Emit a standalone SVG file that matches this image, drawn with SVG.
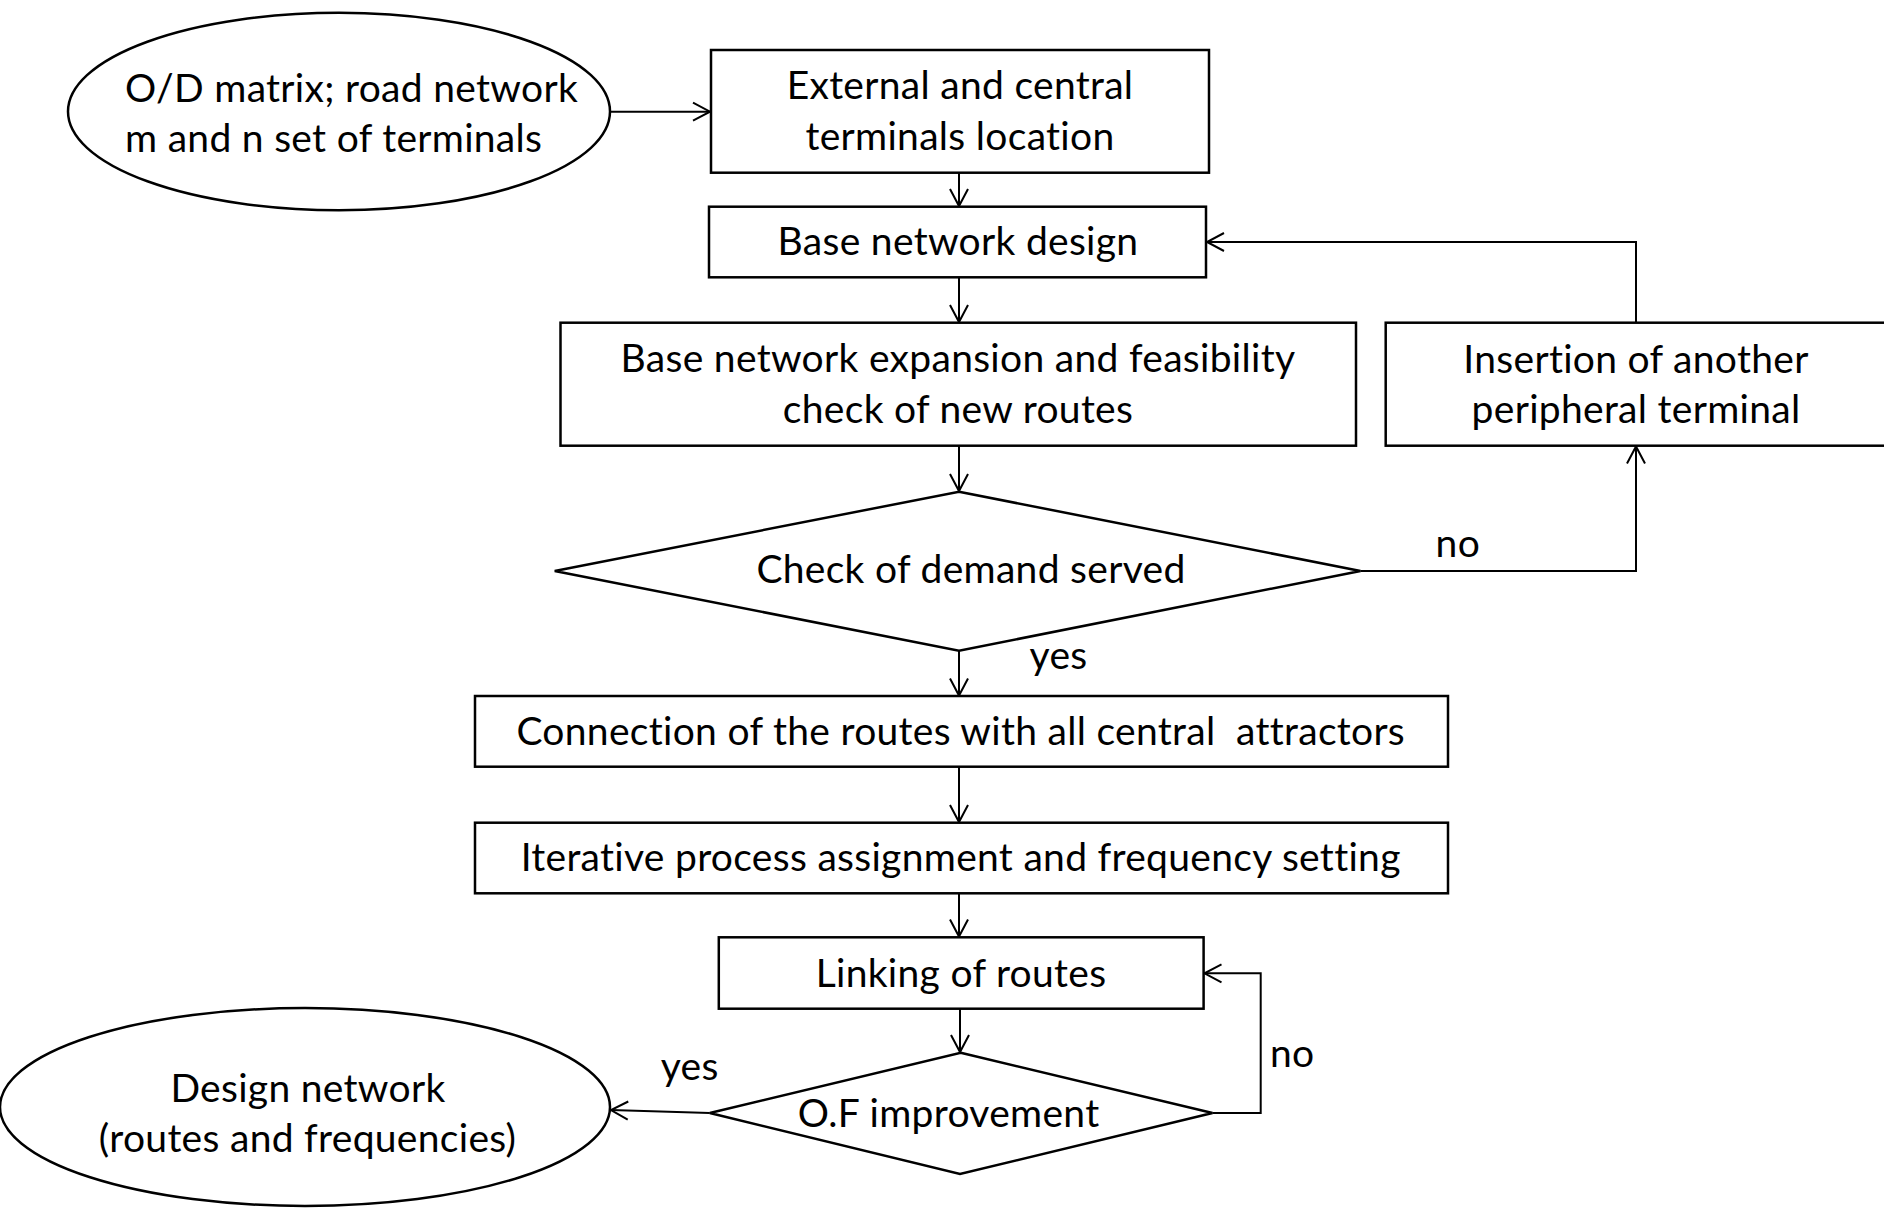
<svg xmlns="http://www.w3.org/2000/svg" width="1884" height="1208" viewBox="0 0 1884 1208">
  <style>
    .shape { fill: #ffffff; stroke: #000000; stroke-width: 2.5; }
    .conn { fill: none; stroke: #000000; stroke-width: 2; }
    text { font-family: Lato, "Open Sans", "Liberation Sans", sans-serif; font-size: 39px; letter-spacing: 0.3px; fill: #000000; white-space: pre; }
    .c { text-anchor: middle; }
  </style>
  <defs>
    <marker id="arrow" markerUnits="userSpaceOnUse" markerWidth="24" markerHeight="24" viewBox="-20 -12 24 24" refX="0" refY="0" orient="auto">
      <path d="M-17,-9 L0,0 L-17,9" fill="none" stroke="#000000" stroke-width="2"/>
    </marker>
  </defs>
  <rect width="1884" height="1208" fill="#ffffff"/>

  <!-- connectors -->
  <g id="connectors">
    <path class="conn" d="M609,111.7 L710,111.7" marker-end="url(#arrow)"/>
    <path class="conn" d="M959,172.7 L959,206" marker-end="url(#arrow)"/>
    <path class="conn" d="M959,277.3 L959,322" marker-end="url(#arrow)"/>
    <path class="conn" d="M959,445.7 L959,491" marker-end="url(#arrow)"/>
    <path class="conn" d="M1360.5,571 L1636,571 L1636,446.5" marker-end="url(#arrow)"/>
    <path class="conn" d="M1636,322.7 L1636,242 L1207,242" marker-end="url(#arrow)"/>
    <path class="conn" d="M959,650.7 L959,695.5" marker-end="url(#arrow)"/>
    <path class="conn" d="M959,766.7 L959,822" marker-end="url(#arrow)"/>
    <path class="conn" d="M959,893.3 L959,936.5" marker-end="url(#arrow)"/>
    <path class="conn" d="M960,1008.7 L960,1052" marker-end="url(#arrow)"/>
    <path class="conn" d="M1212.5,1113 L1260.7,1113 L1260.7,973.3 L1204.5,973.3" marker-end="url(#arrow)"/>
    <path class="conn" d="M709.8,1113 L611,1110" marker-end="url(#arrow)"/>
    <text x="1435.6" y="556.7">no</text>
    <text x="1029.6" y="669">yes</text>
    <text x="1270" y="1066.7">no</text>
    <text x="660.7" y="1080">yes</text>
  </g>

  <!-- inputs -->
  <g id="input">
    <ellipse class="shape" cx="339" cy="111.5" rx="271" ry="98.7"/>
    <text x="125" y="102">O/D matrix; road network</text>
    <text x="125" y="152">m and n set of terminals</text>
  </g>

  <g id="terminals-location">
    <rect class="shape" x="711" y="50" width="498" height="122.7"/>
    <text class="c" x="960" y="99.3">External and central</text>
    <text class="c" x="960" y="150">terminals location</text>
  </g>

  <g id="base-network-design">
    <rect class="shape" x="709" y="206.7" width="497" height="70.6"/>
    <text class="c" x="958" y="255">Base network design</text>
  </g>

  <g id="base-network-expansion">
    <rect class="shape" x="560.5" y="322.7" width="795.5" height="123"/>
    <text class="c" x="958" y="372.3">Base network expansion and feasibility</text>
    <text class="c" x="958" y="422.7">check of new routes</text>
  </g>

  <g id="insertion">
    <rect class="shape" x="1385.7" y="322.7" width="502" height="123"/>
    <text class="c" x="1636" y="373">Insertion of another</text>
    <text class="c" x="1636" y="423">peripheral terminal</text>
  </g>

  <g id="demand-check">
    <polygon class="shape" points="959,491.7 1360.5,571 959,650.7 554.7,571"/>
    <text class="c" x="971" y="583.3">Check of demand served</text>
  </g>

  <g id="connection">
    <rect class="shape" x="475" y="696" width="973" height="70.7"/>
    <text class="c" x="960.7" y="745" xml:space="preserve">Connection of the routes with all central  attractors</text>
  </g>

  <g id="iterative">
    <rect class="shape" x="475" y="822.7" width="973" height="70.6"/>
    <text class="c" x="960.7" y="871">Iterative process assignment and frequency setting</text>
  </g>

  <g id="linking">
    <rect class="shape" x="718.8" y="937.3" width="484.8" height="71.4"/>
    <text class="c" x="961" y="986.7">Linking of routes</text>
  </g>

  <g id="of-improvement">
    <polygon class="shape" points="960.7,1052.7 1212.5,1113 960,1174 709.8,1113"/>
    <text class="c" x="948.6" y="1126.7">O.F improvement</text>
  </g>

  <g id="design-network">
    <ellipse class="shape" cx="305" cy="1107" rx="305" ry="99"/>
    <text class="c" x="308" y="1101.7">Design network</text>
    <text class="c" x="307.6" y="1152">(routes and frequencies)</text>
  </g>
</svg>
